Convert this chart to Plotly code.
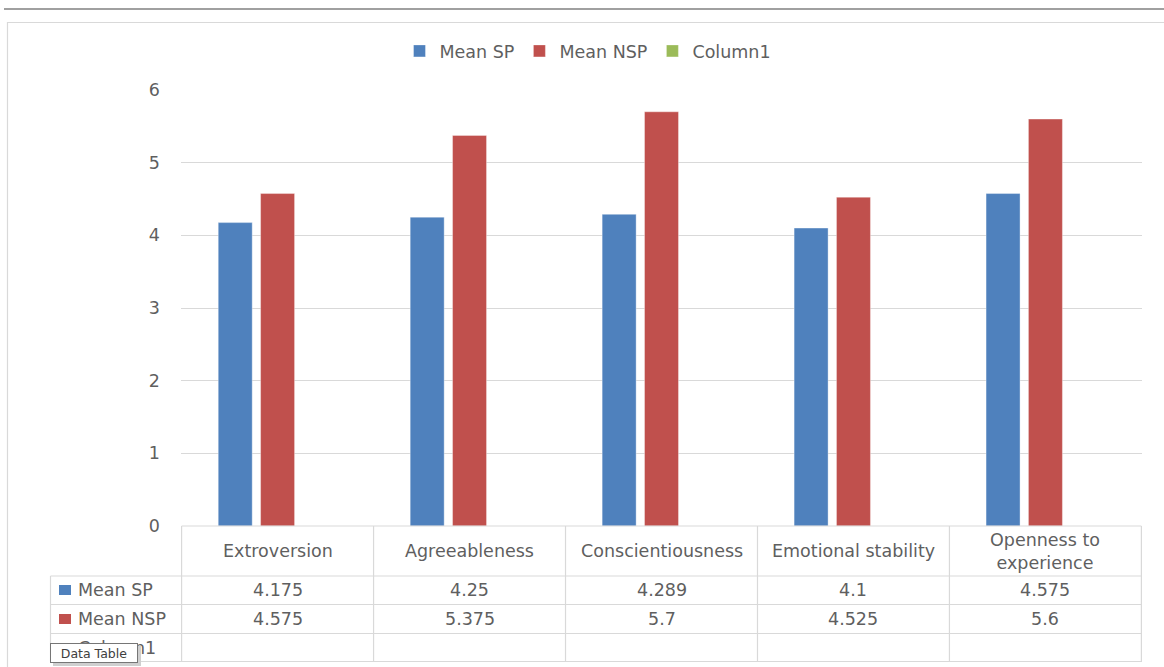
import plotly.graph_objects as go

categories = ["Extroversion", "Agreeableness", "Conscientiousness",
              "Emotional stability", "Openness to experience"]
header_labels = ["Extroversion", "Agreeableness", "Conscientiousness",
                 "Emotional stability", "Openness to<br>experience"]
mean_sp = [4.175, 4.25, 4.289, 4.1, 4.575]
mean_nsp = [4.575, 5.375, 5.7, 4.525, 5.6]
column1 = [None, None, None, None, None]
sp_labels = ["4.175", "4.25", "4.289", "4.1", "4.575"]
nsp_labels = ["4.575", "5.375", "5.7", "4.525", "5.6"]
series_names = ["Mean SP", "Mean NSP", "Column1"]
y_ticks = [0, 1, 2, 3, 4, 5, 6]

BLUE = "#4F81BD"
RED = "#C0504D"
GREEN = "#9BBB59"
TXT = "#5f5f5f"
GRID = "#D9D9D9"
FONT = "DejaVu Sans"
FS = 17.5

W, H = 1164, 667


def px(x):
    return x / W


def py(y):
    return (H - y) / H


fig = go.Figure()
for name, vals, col in zip(series_names, [mean_sp, mean_nsp, column1], [BLUE, RED, GREEN]):
    fig.add_trace(go.Bar(x=categories, y=vals, name=name,
                         marker=dict(color=col, line=dict(color="rgba(255,255,255,0.6)", width=0.6))))

shapes = []
annotations = []

# outer decorations
shapes.append(dict(type="line", xref="paper", yref="paper", x0=px(4), x1=px(1170),
                   y0=py(9), y1=py(9), line=dict(color="#808080", width=1.5)))
shapes.append(dict(type="rect", xref="paper", yref="paper", x0=px(7.5), x1=px(1180),
                   y0=py(22.5), y1=py(700), line=dict(color=GRID, width=1.2)))

# table grid
ROW_Y = [526, 576, 604.5, 633.5, 661.5]
for i in range(len(categories) + 1):
    shapes.append(dict(type="line", xref="x", yref="paper", x0=i - 0.5, x1=i - 0.5,
                       y0=py(526), y1=py(661.5), line=dict(color=GRID, width=1.2)))
shapes.append(dict(type="line", xref="paper", yref="paper", x0=px(50.5), x1=px(50.5),
                   y0=py(576), y1=py(661.5), line=dict(color=GRID, width=1.2)))
shapes.append(dict(type="line", xref="x", yref="paper", x0=-0.5, x1=len(categories) - 0.5,
                   y0=py(526), y1=py(526), line=dict(color=GRID, width=1.2)))
for yy in ROW_Y[1:]:
    shapes.append(dict(type="line", xref="paper", yref="paper", x0=px(50.5), x1=px(1142),
                       y0=py(yy), y1=py(yy), line=dict(color=GRID, width=1.2)))

# header
for i, lab in enumerate(header_labels):
    annotations.append(dict(x=i, y=py(551), xref="x", yref="paper", text=lab, showarrow=False,
                            font=dict(family=FONT, size=FS, color=TXT), xanchor="center",
                            yanchor="middle"))
# values
for row_y, labs in [(590, sp_labels), (619, nsp_labels)]:
    for i, lab in enumerate(labs):
        annotations.append(dict(x=i, y=py(row_y), xref="x", yref="paper", text=lab,
                                showarrow=False, font=dict(family=FONT, size=FS, color=TXT),
                                xanchor="center", yanchor="middle"))

# row labels with keys
for row_y, name, col in [(590, series_names[0], BLUE), (619, series_names[1], RED),
                         (648, series_names[2], GREEN)]:
    shapes.append(dict(type="rect", xref="paper", yref="paper", x0=px(59), x1=px(71),
                       y0=py(row_y - 5), y1=py(row_y + 5), fillcolor=col, line=dict(width=0)))
    annotations.append(dict(x=px(76), y=py(row_y), xref="paper", yref="paper", text=name,
                            showarrow=False, font=dict(family=FONT, size=FS, color=TXT),
                            xanchor="left", yanchor="middle"))

# "Data Table" tooltip (shadow + box)
annotations.append(dict(x=px(52.5), y=py(645.5), xref="paper", yref="paper", text=" ",
                        showarrow=False, font=dict(family=FONT, size=12.5, color="#404040"),
                        xanchor="left", yanchor="top", bgcolor="#cfcfcf",
                        borderwidth=1, bordercolor="#cfcfcf", borderpad=2, width=82, height=14))
annotations.append(dict(x=px(50), y=py(643), xref="paper", yref="paper", text="Data Table",
                        showarrow=False, font=dict(family=FONT, size=12.5, color="#404040"),
                        xanchor="left", yanchor="top", bgcolor="white", bordercolor="#767676",
                        borderwidth=1, borderpad=2, width=82, height=14, align="center"))

fig.update_layout(
    width=W, height=H,
    margin=dict(l=0, r=0, t=0, b=0, autoexpand=False),
    paper_bgcolor="white", plot_bgcolor="white",
    barmode="group", bargap=0.338, bargroupgap=0.198,
    font=dict(family=FONT, color=TXT, size=FS),
    showlegend=True,
    legend=dict(orientation="h", x=px(588), xanchor="center", y=py(51), yanchor="middle",
                font=dict(family=FONT, size=FS, color=TXT), itemwidth=30,
                bgcolor="rgba(0,0,0,0)"),
    xaxis=dict(domain=[px(181), px(1142)], showticklabels=False, showgrid=False,
               zeroline=False, showline=False, ticks="", automargin=False),
    yaxis=dict(domain=[py(526), py(90)], range=[0, 6], tickvals=y_ticks,
               showgrid=True, gridcolor=GRID, gridwidth=1.2, zeroline=False, showline=False,
               ticks="", ticklabelstandoff=20, automargin=False,
               tickfont=dict(family=FONT, size=FS, color=TXT)),
    shapes=shapes,
    annotations=annotations,
)

fig.write_html("out.html")
